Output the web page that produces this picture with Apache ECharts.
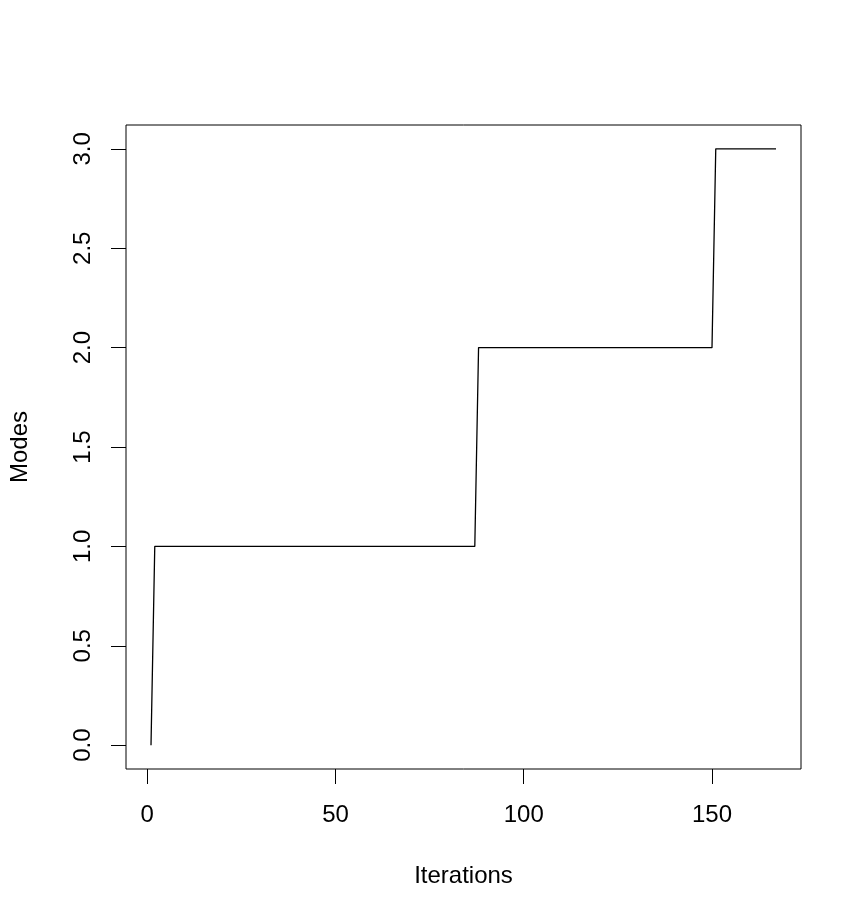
<!DOCTYPE html>
<html>
<head>
<meta charset="utf-8">
<script src="https://cdn.jsdelivr.net/npm/echarts@6/dist/echarts.min.js"></script>
<style>
  html, body { margin: 0; padding: 0; background: #fff; }
  #chart { width: 865px; height: 924px; }
</style>
</head>
<body>
<div id="chart"></div>
<script>
// vertices of the step line (iteration, number of modes)
var iterations = [1, 2, 87, 88, 150, 151, 167];
var modes = [0, 1, 1, 2, 2, 3, 3];

// tick labels
var xTicks = [0, 50, 100, 150];
var yTicks = [0, 0.5, 1, 1.5, 2, 2.5, 3];

var font = "Liberation Sans, Arial, sans-serif";

var chart = echarts.init(document.getElementById("chart"));

var points = [];
iterations.forEach(function (it, i) {
  points.push([it, modes[i]]);
});

chart.setOption({
  animation: false,
  backgroundColor: "#fff",
  grid: {
    left: 125,
    right: 64,
    top: 125,
    bottom: 155,
    show: true,
    borderColor: "#000",
    borderWidth: 1,
    backgroundColor: "transparent"
  },
  xAxis: {
    type: "value",
    min: -5.64,
    max: 173.64,
    name: "Iterations",
    nameLocation: "middle",
    nameGap: 95,
    nameTextStyle: { color: "#000", fontSize: 24, fontFamily: font },
    axisLine: { show: false, onZero: false },
    splitLine: { show: false },
    axisTick: {
      show: true,
      length: 15,
      customValues: xTicks,
      lineStyle: { color: "#000", width: 1 }
    },
    axisLabel: {
      customValues: xTicks,
      margin: 34,
      color: "#000",
      fontSize: 24,
      fontFamily: font
    }
  },
  yAxis: {
    type: "value",
    min: -0.12,
    max: 3.12,
    name: "Modes",
    nameLocation: "middle",
    nameGap: 94,
    nameTextStyle: { color: "#000", fontSize: 24, fontFamily: font },
    axisLine: { show: false, onZero: false },
    splitLine: { show: false },
    axisTick: {
      show: true,
      length: 15,
      customValues: yTicks,
      lineStyle: { color: "#000", width: 1 }
    },
    axisLabel: {
      customValues: yTicks,
      rotate: 90,
      margin: 31,
      color: "#000",
      fontSize: 24,
      fontFamily: font,
      formatter: function (v) { return v.toFixed(1); }
    }
  },
  series: [
    {
      type: "line",
      data: points,
      showSymbol: false,
      symbol: "none",
      lineStyle: { color: "#000", width: 1.3 }
    }
  ]
});
</script>
</body>
</html>
